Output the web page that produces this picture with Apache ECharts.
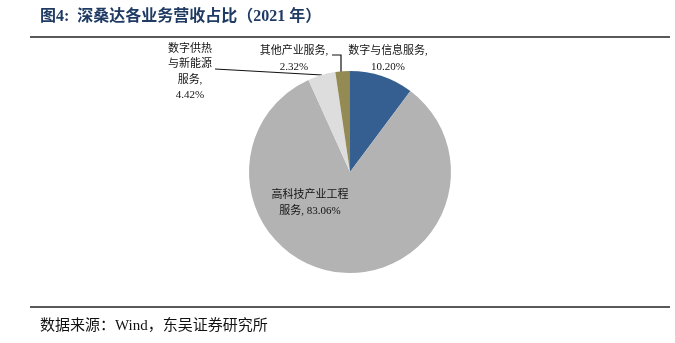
<!DOCTYPE html>
<html><head><meta charset="utf-8">
<script src="https://cdn.jsdelivr.net/npm/echarts@6/dist/echarts.min.js"></script>
<style>html,body{margin:0;padding:0;background:#fff}#c{width:675px;height:343px}</style>
</head><body><div id="c"></div>
<script>
const categories = ['数字与信息服务', '高科技产业工程服务', '数字供热与新能源服务', '其他产业服务'];
const labelTexts = ['数字与信息服务,\n10.20%', '高科技产业工程\n服务, 83.06%', '数字供热\n与新能源\n服务,\n4.42%', '其他产业服务,\n2.32%'];
const values = [10.20, 83.06, 4.42, 2.32];
const colors = ['#365f91', '#b3b3b3', '#dddddd', '#948a54'];

const labelPos = [
  {x: 388, y: 59},
  {x: 310, y: 203},
  {x: 190, y: 72},
  {x: 294, y: 59}
];
const linePts = [
  null,
  null,
  [[322, 75], [215, 69], [215, 69]],
  [[341, 72], [341, 55], [332, 55]]
];

const chart = echarts.init(document.getElementById('c'));
const serif = '"Liberation Serif", "Times New Roman", "Noto Sans CJK SC", serif';
chart.setOption({
  animation: false,
  graphic: [
    {type: 'text', left: 40, top: 9, style: {text: '图4:  深桑达各业务营收占比（2021 年）', font: 'bold 16px ' + serif, fill: '#1f3a63'}},
    {type: 'line', shape: {x1: 30, y1: 37, x2: 670, y2: 37}, style: {stroke: '#222', lineWidth: 1.5}},
    {type: 'line', shape: {x1: 30, y1: 307, x2: 670, y2: 307}, style: {stroke: '#222', lineWidth: 1.5}},
    {type: 'text', left: 40, top: 319, style: {text: '数据来源：Wind，东吴证券研究所', font: '15px ' + serif, fill: '#111'}}
  ],
  series: [{
    type: 'pie',
    center: [350, 172],
    radius: [0, 101],
    startAngle: 90,
    clockwise: true,
    avoidLabelOverlap: false,
    itemStyle: {borderWidth: 0},
    label: {
      show: true,
      position: 'outside',
      formatter: p => labelTexts[p.dataIndex],
      fontFamily: serif,
      fontSize: 11,
      lineHeight: 15.5,
      color: '#111',
      align: 'center'
    },
    labelLine: {show: true, lineStyle: {color: '#111', width: 1.2}, length: 10, length2: 10},
    labelLayout: function (params) {
      const i = params.dataIndex;
      const r = {x: labelPos[i].x, y: labelPos[i].y, align: 'center', verticalAlign: 'middle'};
      if (linePts[i]) r.labelLinePoints = linePts[i];
      return r;
    },
    data: categories.map((c, i) => ({
      name: c,
      value: values[i],
      itemStyle: {color: colors[i]},
      labelLine: {show: linePts[i] !== null}
    }))
  }]
});
</script></body></html>
